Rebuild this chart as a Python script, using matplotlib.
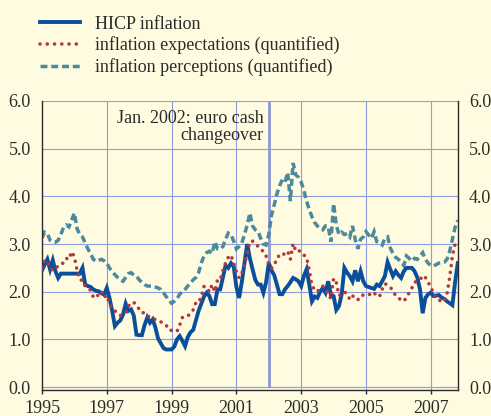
import matplotlib
matplotlib.use("Agg")
import matplotlib.pyplot as plt
from matplotlib.lines import Line2D

# monthly data, Jan 1995 onwards (annual percentage changes)
start_year = 1995

hicp = [
    2.45, 2.57, 2.68, 2.47, 2.66, 2.43, 2.29, 2.38, 2.38, 2.38, 2.38, 2.38,  # 1995
    2.38, 2.38, 2.38, 2.50, 2.15, 2.12, 2.10, 2.05, 2.02, 2.01, 1.97, 1.94,  # 1996
    2.08, 1.87, 1.60, 1.28, 1.35, 1.40, 1.52, 1.75, 1.60, 1.63, 1.50, 1.10,  # 1997
    1.09, 1.09, 1.30, 1.46, 1.35, 1.42, 1.25, 1.02, 0.92, 0.82, 0.79, 0.79,  # 1998
    0.79, 0.85, 1.00, 1.07, 0.97, 0.86, 1.05, 1.15, 1.20, 1.40, 1.60, 1.75,  # 1999
    1.90, 1.98, 1.91, 1.74, 1.74, 2.05, 2.05, 2.30, 2.55, 2.50, 2.60, 2.53,  # 2000
    2.10, 1.87, 2.20, 2.60, 3.00, 2.70, 2.47, 2.25, 2.15, 2.15, 1.98, 2.20,  # 2001
    2.60, 2.45, 2.35, 2.15, 1.95, 1.95, 2.05, 2.12, 2.20, 2.29, 2.26, 2.22,  # 2002
    2.12, 2.33, 2.47, 2.15, 1.80, 1.90, 1.87, 2.00, 2.08, 1.98, 2.22, 1.94,  # 2003
    1.91, 1.62, 1.70, 1.95, 2.50, 2.40, 2.33, 2.22, 2.45, 2.22, 2.43, 2.22,  # 2004
    2.12, 2.10, 2.08, 2.06, 2.15, 2.12, 2.22, 2.33, 2.62, 2.47, 2.33, 2.43,  # 2005
    2.35, 2.29, 2.43, 2.50, 2.50, 2.50, 2.43, 2.30, 2.05, 1.55, 1.87, 1.95,  # 2006
    1.98, 1.91, 1.92, 1.93, 1.88, 1.85, 1.80, 1.76, 1.72, 2.20, 2.60,        # 2007
]

expectations = [
    2.50, 2.66, 2.64, 2.50, 2.45, 2.47, 2.55, 2.59, 2.60, 2.70, 2.68, 2.84,  # 1995
    2.73, 2.45, 2.25, 2.24, 2.12, 2.08, 2.03, 1.89, 1.87, 1.95, 2.01, 1.88,  # 1996
    1.93, 1.76, 1.65, 1.60, 1.55, 1.50, 1.53, 1.56, 1.70, 1.76, 1.78, 1.70,  # 1997
    1.64, 1.56, 1.56, 1.50, 1.46, 1.43, 1.42, 1.40, 1.37, 1.34, 1.30, 1.20,  # 1998
    1.19, 1.18, 1.17, 1.30, 1.46, 1.47, 1.49, 1.55, 1.62, 1.77, 1.77, 1.90,  # 1999
    2.11, 2.10, 2.00, 2.15, 2.00, 2.25, 2.25, 2.44, 2.60, 2.72, 2.77, 2.60,  # 2000
    2.42, 2.29, 2.39, 2.55, 2.80, 3.05, 3.06, 3.02, 2.95, 2.88, 2.85, 2.75,  # 2001
    2.58, 2.49, 2.55, 2.70, 2.77, 2.75, 2.82, 2.85, 2.68, 3.01, 2.86, 2.88,  # 2002
    2.80, 2.77, 2.72, 2.45, 2.12, 2.05, 2.00, 2.08, 2.12, 2.02, 1.98, 1.85,  # 2003
    2.28, 2.20, 1.92, 1.95, 2.00, 1.95, 1.84, 1.92, 1.85, 1.83, 1.92, 1.93,  # 2004
    1.93, 1.95, 1.93, 1.98, 1.91, 1.90, 2.05, 2.17, 2.14, 2.10, 2.01, 1.92,  # 2005
    1.87, 1.83, 1.80, 1.88, 1.98, 2.08, 2.20, 2.22, 2.25, 2.34, 2.30, 2.20,  # 2006
    2.10, 1.97, 1.86, 1.84, 1.78, 1.82, 1.96, 2.30, 2.75, 3.00,              # 2007
]

perceptions = [
    3.13, 3.25, 3.22, 3.08, 3.05, 3.04, 3.08, 3.20, 3.35, 3.40, 3.36, 3.50,  # 1995
    3.65, 3.32, 3.20, 3.15, 3.02, 2.90, 2.80, 2.68, 2.64, 2.66, 2.68, 2.65,  # 1996
    2.60, 2.50, 2.42, 2.36, 2.30, 2.25, 2.22, 2.30, 2.38, 2.40, 2.35, 2.33,  # 1997
    2.25, 2.20, 2.15, 2.12, 2.12, 2.12, 2.10, 2.08, 2.05, 1.98, 1.90, 1.82,  # 1998
    1.76, 1.80, 1.85, 1.95, 2.00, 2.05, 2.12, 2.18, 2.25, 2.30, 2.40, 2.60,  # 1999
    2.75, 2.82, 2.85, 2.80, 3.05, 2.90, 2.89, 2.95, 3.10, 3.23, 3.20, 3.06,  # 2000
    2.90, 2.95, 3.02, 3.20, 3.40, 3.65, 3.38, 3.30, 3.27, 3.12, 3.00, 2.98,  # 2001
    3.20, 3.60, 3.82, 4.05, 4.22, 4.35, 4.30, 4.50, 3.90, 4.70, 4.45, 4.40,  # 2002
    4.30, 4.12, 3.90, 3.72, 3.57, 3.45, 3.38, 3.33, 3.30, 3.38, 3.37, 3.05,  # 2003
    3.85, 3.40, 3.20, 3.25, 3.20, 3.22, 3.15, 3.38, 3.10, 2.90, 3.10, 3.15,  # 2004
    3.26, 3.19, 3.12, 3.26, 3.05, 3.02, 2.98, 3.12, 3.15, 2.92, 2.80, 2.72,  # 2005
    2.68, 2.62, 2.55, 2.75, 2.70, 2.64, 2.70, 2.68, 2.75, 2.82, 2.68, 2.60,  # 2006
    2.55, 2.54, 2.57, 2.60, 2.61, 2.62, 2.68, 2.85, 3.10, 3.35, 3.50,        # 2007
]

labels = ["HICP inflation",
          "inflation expectations (quantified)",
          "inflation perceptions (quantified)"]
year_ticks = [1995, 1997, 1999, 2001, 2003, 2005, 2007]
changeover = 2002
note = "Jan. 2002: euro cash\nchangeover"

bg = "#fefbe0"
grid_col = "#8f9ee0"
text_col = "#2b2b2b"
blue = "#0a4f9c"
red = "#b3383b"
teal = "#4a8a9c"

plt.rcParams["font.family"] = ["Liberation Serif", "DejaVu Serif"]
plt.rcParams["font.size"] = 13


def months(series):
    return [start_year + i / 12 for i in range(len(series))]


fig = plt.figure(figsize=(4.91, 4.16), dpi=100, facecolor=bg)
ax = fig.add_axes([0.0855, 0.0613, 0.8473, 0.696], facecolor=bg)

# grid
for y in range(0, 7):
    ax.axhline(y, color=grid_col, lw=0.8, zorder=1)
for x in year_ticks[1:]:
    ax.axvline(x, color=grid_col, lw=0.8, zorder=1)
ax.vlines(changeover, 0, 6, color="#8f98d4", lw=2.0, zorder=1.5)

ax.plot(months(perceptions), perceptions, color=teal, lw=2.5,
        linestyle=(0, (2.0, 1.1)), dash_capstyle="butt",
        dash_joinstyle="miter", zorder=2)
ax.plot(months(hicp), hicp, color=blue, lw=2.8,
        solid_joinstyle="miter", zorder=3)
ax.plot(months(expectations), expectations, color=red, lw=2.6,
        linestyle=(0, (0.01, 1.9)), dash_capstyle="round", zorder=4)

ax.text(2001.85, 5.82, note, ha="right", va="top", linespacing=1.0,
        color=text_col, fontsize=13, zorder=5)

ax.set_xlim(1995, 2007.84)
ax.set_ylim(-0.07, 6)
ax.set_xticks(year_ticks)
ax.set_yticks(range(0, 7))
ax.set_yticklabels([f"{v:.1f}" for v in range(0, 7)])
ax.tick_params(axis="y", length=0, pad=8, labelleft=True, labelright=True,
               colors=text_col, labelsize=13)
ax.tick_params(axis="x", length=3, width=1, pad=4, direction="out",
               color=text_col, labelcolor=text_col, labelsize=13)

for side in ["left", "right", "bottom"]:
    ax.spines[side].set_color(text_col)
    ax.spines[side].set_linewidth(1.0)
ax.spines["top"].set_visible(False)

handles = [
    Line2D([], [], color=blue, lw=2.8),
    Line2D([], [], color=red, lw=2.6, linestyle=(0, (0.01, 2.0)),
           dash_capstyle="round"),
    Line2D([], [], color=teal, lw=2.5, linestyle=(0, (2.0, 1.1)),
           dash_capstyle="butt"),
]
fig.legend(handles, labels, loc="upper left", bbox_to_anchor=(0.0815, 0.962),
           frameon=False, handlelength=2.2, handletextpad=0.85,
           labelspacing=0.2, borderpad=0, borderaxespad=0,
           labelcolor=text_col, fontsize=13)

fig.savefig("out.png", dpi=100, facecolor=bg)
